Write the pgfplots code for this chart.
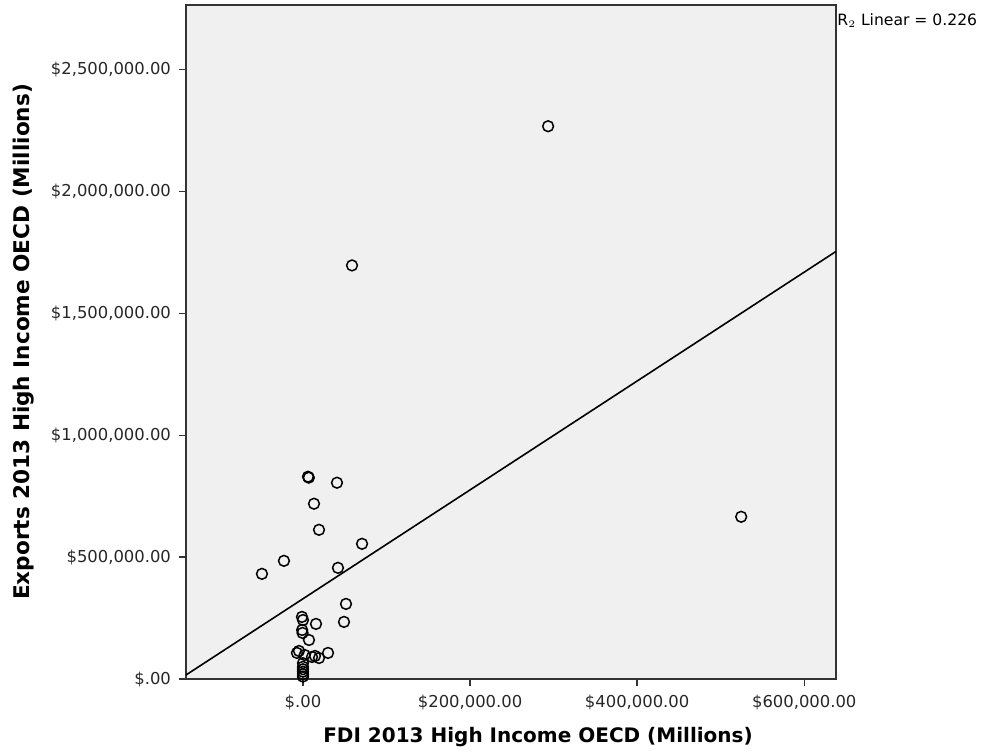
\documentclass[border=0pt]{standalone}
\usepackage{pgfplots}
\pgfplotsset{compat=1.18}
\usepackage{fontspec}
\setmainfont{DejaVu Sans}
\definecolor{bgfill}{HTML}{F0F0F0}
\begin{document}
\begin{tikzpicture}
\useasboundingbox (-93pt,-37pt) rectangle (404pt,339.5pt);
\begin{axis}[
  at={(0,0)}, anchor=south west,
  scale only axis, width=325pt, height=337pt,
  xmin=-140000, xmax=638000, ymin=0, ymax=2765000,
  scaled ticks=false,
  axis background/.style={fill=bgfill},
  axis line style={black!80, line width=0.7pt},
  xtick={0,200000,400000,600000},
  xticklabels={\$.00,\$200{,}000.00,\$400{,}000.00,\$600{,}000.00},
  ytick={0,500000,1000000,1500000,2000000,2500000},
  yticklabels={\$.00,\$500{,}000.00,\$1{,}000{,}000.00,\$1{,}500{,}000.00,\$2{,}000{,}000.00,\$2{,}500{,}000.00},
  tick align=outside, tick pos=left,
  major tick length=3.5pt,
  tick style={black!80, line width=0.7pt},
  ticklabel style={font=\fontsize{8.2}{10}\selectfont, text=black!85},
  xticklabel style={yshift=-1pt},
  yticklabel style={xshift=-0.5pt},
  xlabel={\textbf{FDI 2013 High Income OECD (Millions)}},
  ylabel={\textbf{Exports 2013 High Income OECD (Millions)}},
  xlabel style={font=\fontsize{10}{12}\selectfont, xshift=13.5pt, yshift=-2pt},
  ylabel style={font=\fontsize{10.8}{13}\selectfont, yshift=1.5pt},
  clip=true,
]
\addplot[black, line width=0.8pt] coordinates {(-140000,16400) (638000,1754000)};
\addplot[only marks, mark=o, mark size=2.7pt, mark options={black, line width=0.75pt}] coordinates {
(293400,2267600)
(58700,1696600)
(524500,665500)
(-49100,431300)
(-22750,484700)
(6000,829800)
(7000,826000)
(40700,805200)
(13200,719000)
(19200,612000)
(70700,554600)
(41900,456000)
(51500,308000)
(49100,234200)
(-1200,254700)
(0,242000)
(15600,226000)
(-1000,201000)
(-500,189000)
(7200,160000)
(30000,107000)
(-4800,115000)
(-7200,107000)
(2000,98600)
(10800,90400)
(19200,86000)
(14400,94500)
(0,65000)
(0,50000)
(0,40000)
(0,30000)
(0,20000)
(0,10000)
};
\end{axis}
\node[anchor=west, font=\fontsize{7.8}{9}\selectfont, inner sep=0pt] at (325.5pt,329pt) {R$_{\scriptscriptstyle 2}$ Linear = 0.226};
\end{tikzpicture}
\end{document}
